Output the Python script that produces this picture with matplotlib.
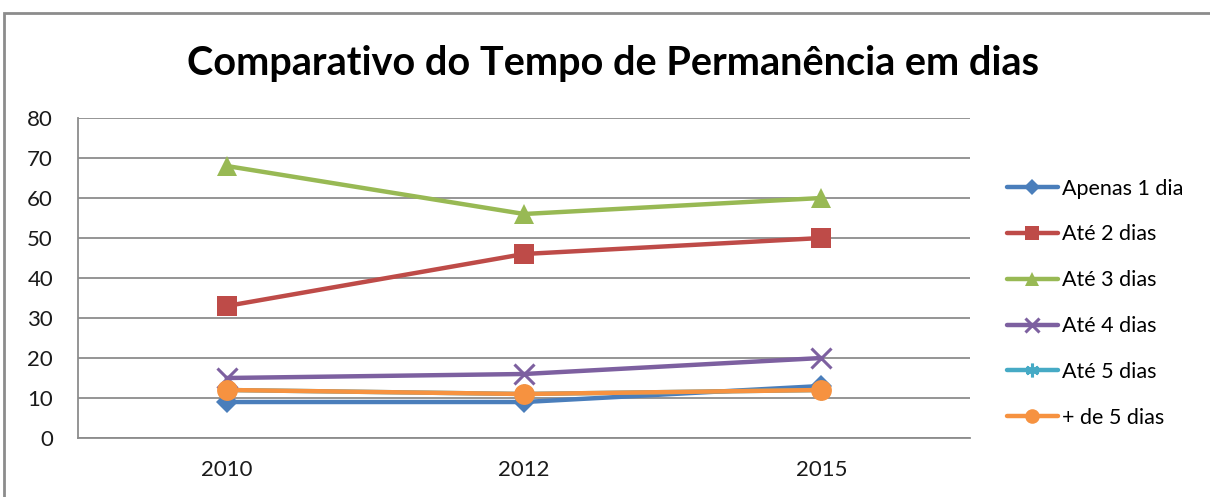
import matplotlib
matplotlib.use("Agg")
import matplotlib.pyplot as plt
from matplotlib.patches import Rectangle

plt.rcParams["font.family"] = ["Lato", "DejaVu Sans"]

anos = ["2010", "2012", "2015"]
apenas_1 = [9, 9, 13]
ate_2 = [33, 46, 50]
ate_3 = [68, 56, 60]
ate_4 = [15, 16, 20]
ate_5 = [12, 11, 12]
mais_5 = [12, 11, 12]

# nome, valores, cor, marcador, tamanho
series = [
    ("Apenas 1 dia", apenas_1, "#4A7EBB", "D", 11),
    ("Até 2 dias", ate_2, "#BE4B48", "s", 14),
    ("Até 3 dias", ate_3, "#98B954", "^", 15),
    ("Até 4 dias", ate_4, "#7D60A0", "x", 14),
    ("Até 5 dias", ate_5, "#46AAC5", (6, 2, 0), 14),
    ("+ de 5 dias", mais_5, "#F69240", "o", 15),
]

fig = plt.figure(figsize=(12.1, 4.97), dpi=100)
ax = fig.add_axes([0.0645, 0.1187, 0.7372, 0.6439])

# moldura externa do gráfico
fig.patches.append(Rectangle((4 / 1210, -0.1), 1.2, (497 - 13) / 497 + 0.1,
                             transform=fig.transFigure, fill=False,
                             edgecolor="#8c8c8c", linewidth=2))

x = list(range(len(anos)))
for nome, vals, cor, mk, ms in series:
    linhas = mk == "x" or isinstance(mk, tuple)
    ax.plot(x, vals, color=cor, linewidth=3.2, marker=mk, markersize=ms,
            markerfacecolor=cor, markeredgecolor=cor, label=nome,
            markeredgewidth=2.2 if linhas else 0, solid_capstyle="round")

ax.set_xlim(-0.5, 2.5)
ax.set_ylim(0, 80)
ax.set_yticks(range(0, 81, 10))
ax.set_xticks(x)
ax.set_xticklabels(anos)
ax.yaxis.grid(True, color="#8c8c8c", linewidth=1.3)
ax.set_axisbelow(True)
ax.tick_params(length=0, labelsize=16, colors="#1a1a1a")
ax.tick_params(axis="y", pad=18)
ax.tick_params(axis="x", pad=16)
for lado in ["top", "right"]:
    ax.spines[lado].set_visible(False)
for lado in ["left", "bottom"]:
    ax.spines[lado].set_color("#8c8c8c")
    ax.spines[lado].set_linewidth(1.3)

fig.text(0.507, 0.872, "Comparativo do Tempo de Permanência em dias",
         ha="center", va="center", fontsize=28.5, fontweight="bold", color="black")

ax.legend(loc="upper left", bbox_to_anchor=(998 / 1210, (497 - 170) / 497),
          bbox_transform=fig.transFigure, frameon=False, fontsize=15.5,
          handlelength=2.4, handletextpad=0.15, labelspacing=1.2,
          markerscale=0.7, borderaxespad=0)

fig.savefig("out.png", dpi=100)
